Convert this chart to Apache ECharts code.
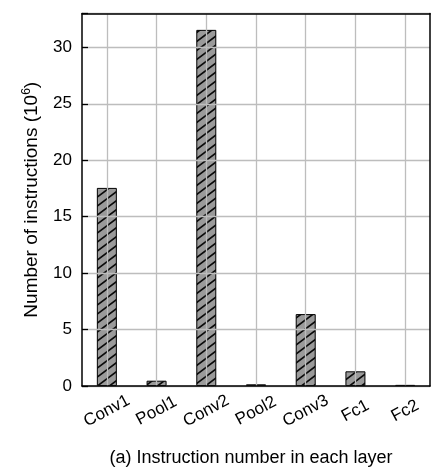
<!DOCTYPE html>
<html>
<head>
<meta charset="utf-8">
<script src="https://cdn.jsdelivr.net/npm/echarts@6/dist/echarts.min.js"></script>
<style>
html,body{margin:0;padding:0;background:#fff;}
#c{width:436px;height:476px;}
</style>
</head>
<body>
<div id="c"></div>
<script>
const categories = ['Conv1', 'Pool1', 'Conv2', 'Pool2', 'Conv3', 'Fc1', 'Fc2'];
const instructions = [17.55, 0.47, 31.55, 0.15, 6.37, 1.3, 0.1];
const yTicks = [0, 5, 10, 15, 20, 25, 30];
const caption = '(a) Instruction number in each layer';

function hatch() {
  const W = 48, H = 36, P = 9, slope = 0.75;
  const cv = document.createElement('canvas');
  cv.width = W; cv.height = H;
  const g = cv.getContext('2d');
  g.fillStyle = '#9a9a9a';
  g.fillRect(0, 0, W, H);
  g.strokeStyle = '#0a0a0a';
  g.lineWidth = 1.7;
  g.lineCap = 'butt';
  g.beginPath();
  for (let k = -1; k <= H / P + W * slope / P + 1; k++) {
    const x0 = -4, x1 = W + 4;
    g.moveTo(x0, P * k - slope * x0);
    g.lineTo(x1, P * k - slope * x1);
  }
  g.stroke();
  return cv;
}

const chart = echarts.init(document.getElementById('c'), null, {renderer: 'canvas'});
const font = 'Liberation Sans, Arial, sans-serif';
chart.setOption({
  animation: false,
  textStyle: {fontFamily: font},
  grid: {left: 82, right: 6, top: 13.5, bottom: 90, show: false, containLabel: false},
  xAxis: [{
    type: 'category',
    data: categories,
    boundaryGap: true,
    axisLine: {show: true, lineStyle: {color: '#000', width: 1.5}},
    axisTick: {show: false},
    splitLine: {show: true, alignWithLabel: true, lineStyle: {color: '#bdbdbd', width: 1.3}},
    axisLabel: {color: '#000', fontSize: 17, fontFamily: font, rotate: 28, align: 'center', verticalAlign: 'middle', margin: 25},
    z: 5
  }, {
    type: 'category',
    data: categories,
    position: 'top',
    boundaryGap: true,
    axisLine: {show: true, onZero: false, lineStyle: {color: '#000', width: 1.5}},
    axisTick: {show: false},
    axisLabel: {show: false},
    splitLine: {show: false},
    z: 5
  }],
  yAxis: [{
    type: 'value',
    min: 0, max: 33, interval: 5,
    axisLine: {show: true, lineStyle: {color: '#000', width: 1.5}},
    axisTick: {show: true, inside: true, length: 6, lineStyle: {color: '#000', width: 1.3}},
    splitLine: {show: true, lineStyle: {color: '#bdbdbd', width: 1.3}},
    axisLabel: {color: '#000', fontSize: 17, fontFamily: font, margin: 10,
      formatter: v => yTicks.indexOf(v) >= 0 ? String(v) : ''},
    name: '{a|Number of instructions (10}{s|6}{a|)}',
    nameLocation: 'middle',
    nameGap: 40,
    nameTextStyle: {rich: {
      a: {fontSize: 19, fontFamily: font, color: '#000'},
      s: {fontSize: 12, fontFamily: font, color: '#000', verticalAlign: 'top', padding: [0, 0, 9, 0]}
    }},
    z: 5
  }, {
    type: 'value',
    min: 0, max: 33, interval: 5,
    position: 'right',
    axisLine: {show: true, onZero: false, lineStyle: {color: '#000', width: 1.5}},
    axisTick: {show: false},
    axisLabel: {show: false},
    splitLine: {show: false},
    z: 5
  }],
  series: [{
    type: 'bar',
    data: instructions,
    barWidth: 20,
    itemStyle: {color: {image: hatch(), repeat: 'repeat'}, borderColor: '#000', borderWidth: 1},
    z: 3
  }],
  graphic: [{
    type: 'text',
    x: 251,
    y: 458,
    style: {text: caption, fontSize: 18, fontFamily: font, fill: '#000', align: 'center', verticalAlign: 'middle'}
  }]
});
</script>
</body>
</html>
